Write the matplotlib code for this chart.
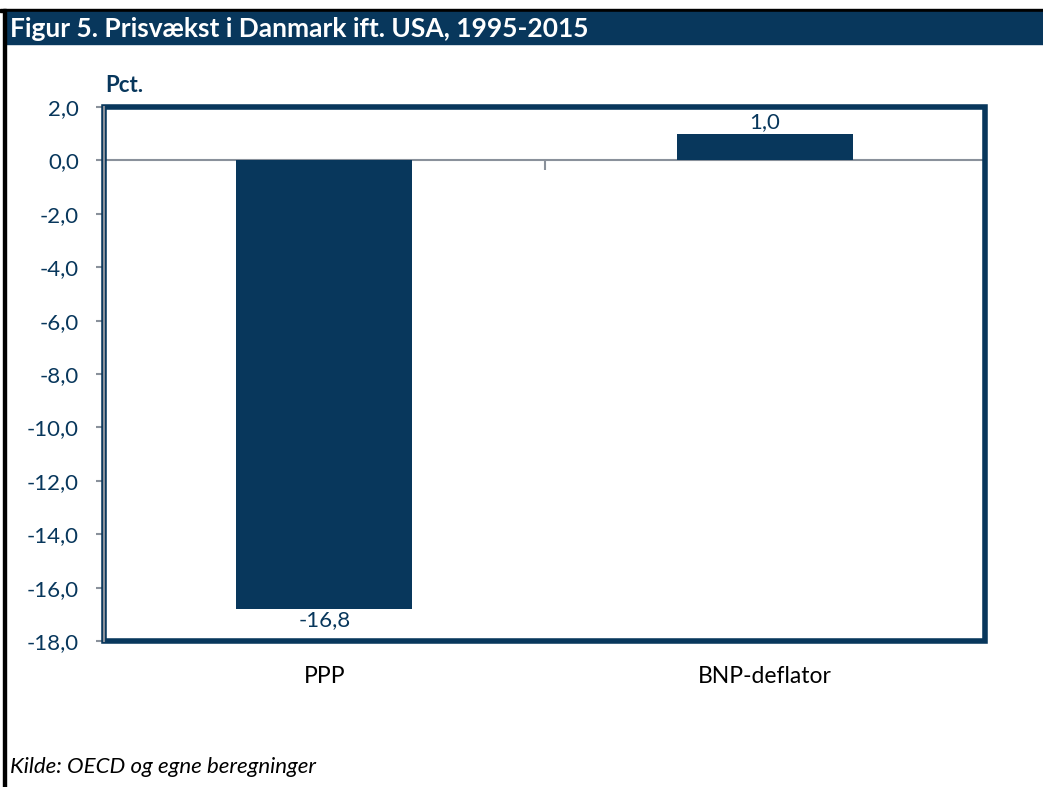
import matplotlib.pyplot as plt
import matplotlib.transforms as mtransforms
from matplotlib.patches import Rectangle

categories = ["PPP", "BNP-deflator"]
values = [-16.8, 1.0]
yticks = [2, 0, -2, -4, -6, -8, -10, -12, -14, -16, -18]

navy = "#08375C"
gray = "#8A919B"

plt.rcParams['font.family'] = ['Lato', 'DejaVu Sans']

fig = plt.figure(figsize=(10.43, 7.87), dpi=100)
W, H = 1043, 787

# header band
fig.patches.append(Rectangle((0, 1 - 12 / H), 1, 3 / H, transform=fig.transFigure,
                             color="black", zorder=0))
fig.patches.append(Rectangle((4 / W, 1 - 44 / H), 1, 32 / H, transform=fig.transFigure,
                             color=navy, zorder=0))
# left black rule
fig.patches.append(Rectangle((3 / W, 0), 3 / W, 1 - 9 / H, transform=fig.transFigure,
                             color="black", zorder=0))
fig.text(10 / W, 1 - 29 / H, "Figur 5. Prisvækst i Danmark ift. USA, 1995-2015",
         color="white", fontsize=19, fontweight="bold", va="center", ha="left")

ax = fig.add_axes([104 / W, 146 / H, 881 / W, 534 / H])
x = list(range(len(categories)))
bars = ax.bar(x, values, width=0.4, color=navy, zorder=3)
ax.bar_label(bars, labels=[f"{v:.1f}".replace(".", ",") for v in values],
             padding=1, fontsize=16, color=navy)

ax.set_xlim(-0.5, 1.5)
ax.set_ylim(-18, 2)
ax.set_yticks(yticks)
ax.set_yticklabels([f"{t:.1f}".replace(".", ",") for t in yticks])
ax.tick_params(axis="y", direction="out", length=6, width=1.5, color=gray,
               labelcolor=navy, labelsize=16, pad=12)

# zero axis with category-boundary ticks
ax.spines["bottom"].set_position(("data", 0))
ax.spines["bottom"].set_color(gray)
ax.spines["bottom"].set_linewidth(1.5)
ax.set_xticks([-0.5, 0.5, 1.5])
ax.set_xticklabels([])
ax.tick_params(axis="x", direction="out", length=7, width=1.5, color=gray)

ax.spines["left"].set_color(gray)
ax.spines["left"].set_linewidth(1.5)
ax.spines["left"].set_zorder(6)
ax.spines["top"].set_visible(False)
ax.spines["right"].set_visible(False)

# navy frame
ax.add_patch(Rectangle((0, 0), 1, 1, transform=ax.transAxes, fill=False,
                       edgecolor=navy, linewidth=4, clip_on=False, zorder=4))

trans = mtransforms.blended_transform_factory(ax.transData, ax.transAxes)
for xi, c in zip(x, categories):
    ax.text(xi, -0.066, c, transform=trans, ha="center", va="center",
            fontsize=16.5, color="black")

fig.text(105 / W, 1 - 86 / H, "Pct.", color=navy, fontsize=16, fontweight="bold",
         ha="left", va="center")
fig.text(10 / W, 1 - 767 / H, "Kilde: OECD og egne beregninger", color="black",
         fontsize=16, style="italic", ha="left", va="center")

fig.savefig("out.png", dpi=100)
